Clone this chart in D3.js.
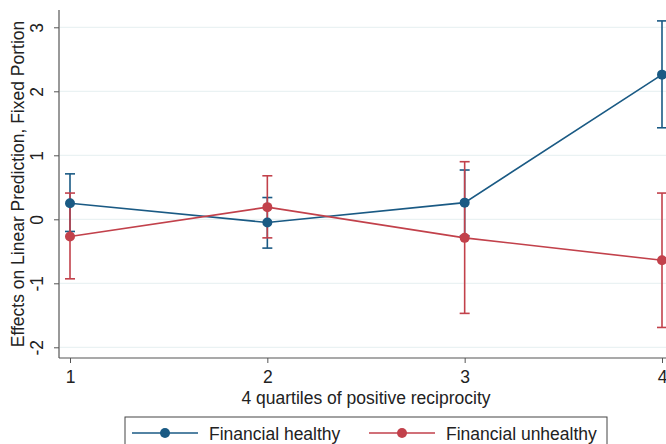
<!DOCTYPE html>
<html>
<head>
<meta charset="utf-8">
<script src="https://cdn.jsdelivr.net/npm/d3@7"></script>
<style>
  body { margin: 0; background: #fff; }
  svg { display: block; font-family: "Liberation Sans", Arial, sans-serif; }
</style>
</head>
<body>
<svg width="666" height="444"></svg>
<script>
// valeurs
let quartiles = [1, 2, 3, 4]
let healthy = [0.25, -0.05, 0.26, 2.26]
let healthyLo = [-0.19, -0.45, -0.26, 1.43]
let healthyHi = [0.71, 0.34, 0.77, 3.10]
let unhealthy = [-0.27, 0.19, -0.29, -0.64]
let unhealthyLo = [-0.93, -0.29, -1.47, -1.69]
let unhealthyHi = [0.41, 0.68, 0.90, 0.41]
let yTicks = [-2, -1, 0, 1, 2, 3]
let seriesNames = ["Financial healthy", "Financial unhealthy"]
let colors = ["#1a5a84", "#c2414b"]

let svg = d3.select("svg")

let x = d3.scaleLinear().domain([1, 4]).range([70, 662])
let y = d3.scaleLinear().domain([-2, 3]).range([347.3, 27.3])

let axisX = 59, axisY = 358
let fs = 17.5

// grille
svg.append("g")
    .selectAll("line")
    .data(yTicks)
    .join("line")
    .attr("x1", axisX + 1)
    .attr("x2", 666)
    .attr("y1", d => y(d))
    .attr("y2", d => y(d))
    .attr("stroke", "#eaf2f3")
    .attr("stroke-width", 1.2)

// axe y
let gy = svg.append("g")
    .attr("transform", `translate(${axisX},0)`)
    .call(d3.axisLeft(y).tickValues(yTicks).tickSize(5).tickSizeOuter(0).tickFormat(d => String(d)))
gy.select(".domain").remove()
gy.selectAll(".tick line").attr("stroke", "#555")
gy.selectAll(".tick text")
    .attr("x", null).attr("dy", null)
    .attr("font-size", fs)
    .attr("fill", "#222")
    .attr("text-anchor", "middle")
    .attr("transform", "translate(-16,0) rotate(-90)")
svg.append("line")
    .attr("x1", axisX).attr("x2", axisX)
    .attr("y1", 10).attr("y2", axisY)
    .attr("stroke", "#555").attr("stroke-width", 1.2)

// axe x
let gx = svg.append("g")
    .attr("transform", `translate(0,${axisY})`)
    .call(d3.axisBottom(x).tickValues(quartiles).tickSize(5).tickSizeOuter(0).tickFormat(d => String(d)))
gx.select(".domain").remove()
gx.selectAll(".tick line").attr("stroke", "#555")
gx.selectAll(".tick text").attr("font-size", fs).attr("fill", "#222").attr("dy", "0.95em")
svg.append("line")
    .attr("x1", axisX).attr("x2", 666)
    .attr("y1", axisY).attr("y2", axisY)
    .attr("stroke", "#555").attr("stroke-width", 1.2)

// titres
svg.append("text")
    .attr("x", 366).attr("y", 404)
    .attr("text-anchor", "middle")
    .attr("font-size", fs).attr("fill", "#222")
    .text("4 quartiles of positive reciprocity")
svg.append("text")
    .attr("transform", "translate(24,184) rotate(-90)")
    .attr("text-anchor", "middle")
    .attr("font-size", fs).attr("fill", "#222")
    .text("Effects on Linear Prediction, Fixed Portion")

let series = [
    {vals: healthy, lo: healthyLo, hi: healthyHi, color: colors[0]},
    {vals: unhealthy, lo: unhealthyLo, hi: unhealthyHi, color: colors[1]}
]

// barres d'erreur
series.forEach(s => {
    let g = svg.append("g").attr("stroke", s.color).attr("stroke-width", 1.6)
    quartiles.forEach((q, i) => {
        g.append("line").attr("x1", x(q)).attr("x2", x(q)).attr("y1", y(s.lo[i])).attr("y2", y(s.hi[i]))
        g.append("line").attr("x1", x(q) - 5).attr("x2", x(q) + 5).attr("y1", y(s.lo[i])).attr("y2", y(s.lo[i]))
        g.append("line").attr("x1", x(q) - 5).attr("x2", x(q) + 5).attr("y1", y(s.hi[i])).attr("y2", y(s.hi[i]))
    })
})

// lignes et points
let line = d3.line().x((d, i) => x(quartiles[i])).y(d => y(d))
series.forEach(s => {
    svg.append("path")
        .attr("d", line(s.vals))
        .attr("fill", "none")
        .attr("stroke", s.color)
        .attr("stroke-width", 1.6)
    svg.append("g")
        .selectAll("circle")
        .data(s.vals)
        .join("circle")
        .attr("cx", (d, i) => x(quartiles[i]))
        .attr("cy", d => y(d))
        .attr("r", 5)
        .attr("fill", s.color)
})

// legende
let leg = svg.append("g")
leg.append("rect")
    .attr("x", 125).attr("y", 417)
    .attr("width", 482).attr("height", 40)
    .attr("fill", "#fff").attr("stroke", "#444").attr("stroke-width", 1)
let legItems = [{x0: 132, tx: 209}, {x0: 369, tx: 446}]
legItems.forEach((it, i) => {
    leg.append("line")
        .attr("x1", it.x0).attr("x2", it.x0 + 66)
        .attr("y1", 433).attr("y2", 433)
        .attr("stroke", colors[i]).attr("stroke-width", 1.6)
    leg.append("circle")
        .attr("cx", it.x0 + 33).attr("cy", 433).attr("r", 5)
        .attr("fill", colors[i])
    leg.append("text")
        .attr("x", it.tx).attr("y", 439.5)
        .attr("font-size", fs).attr("fill", "#222")
        .text(seriesNames[i])
})
</script>
</body>
</html>
